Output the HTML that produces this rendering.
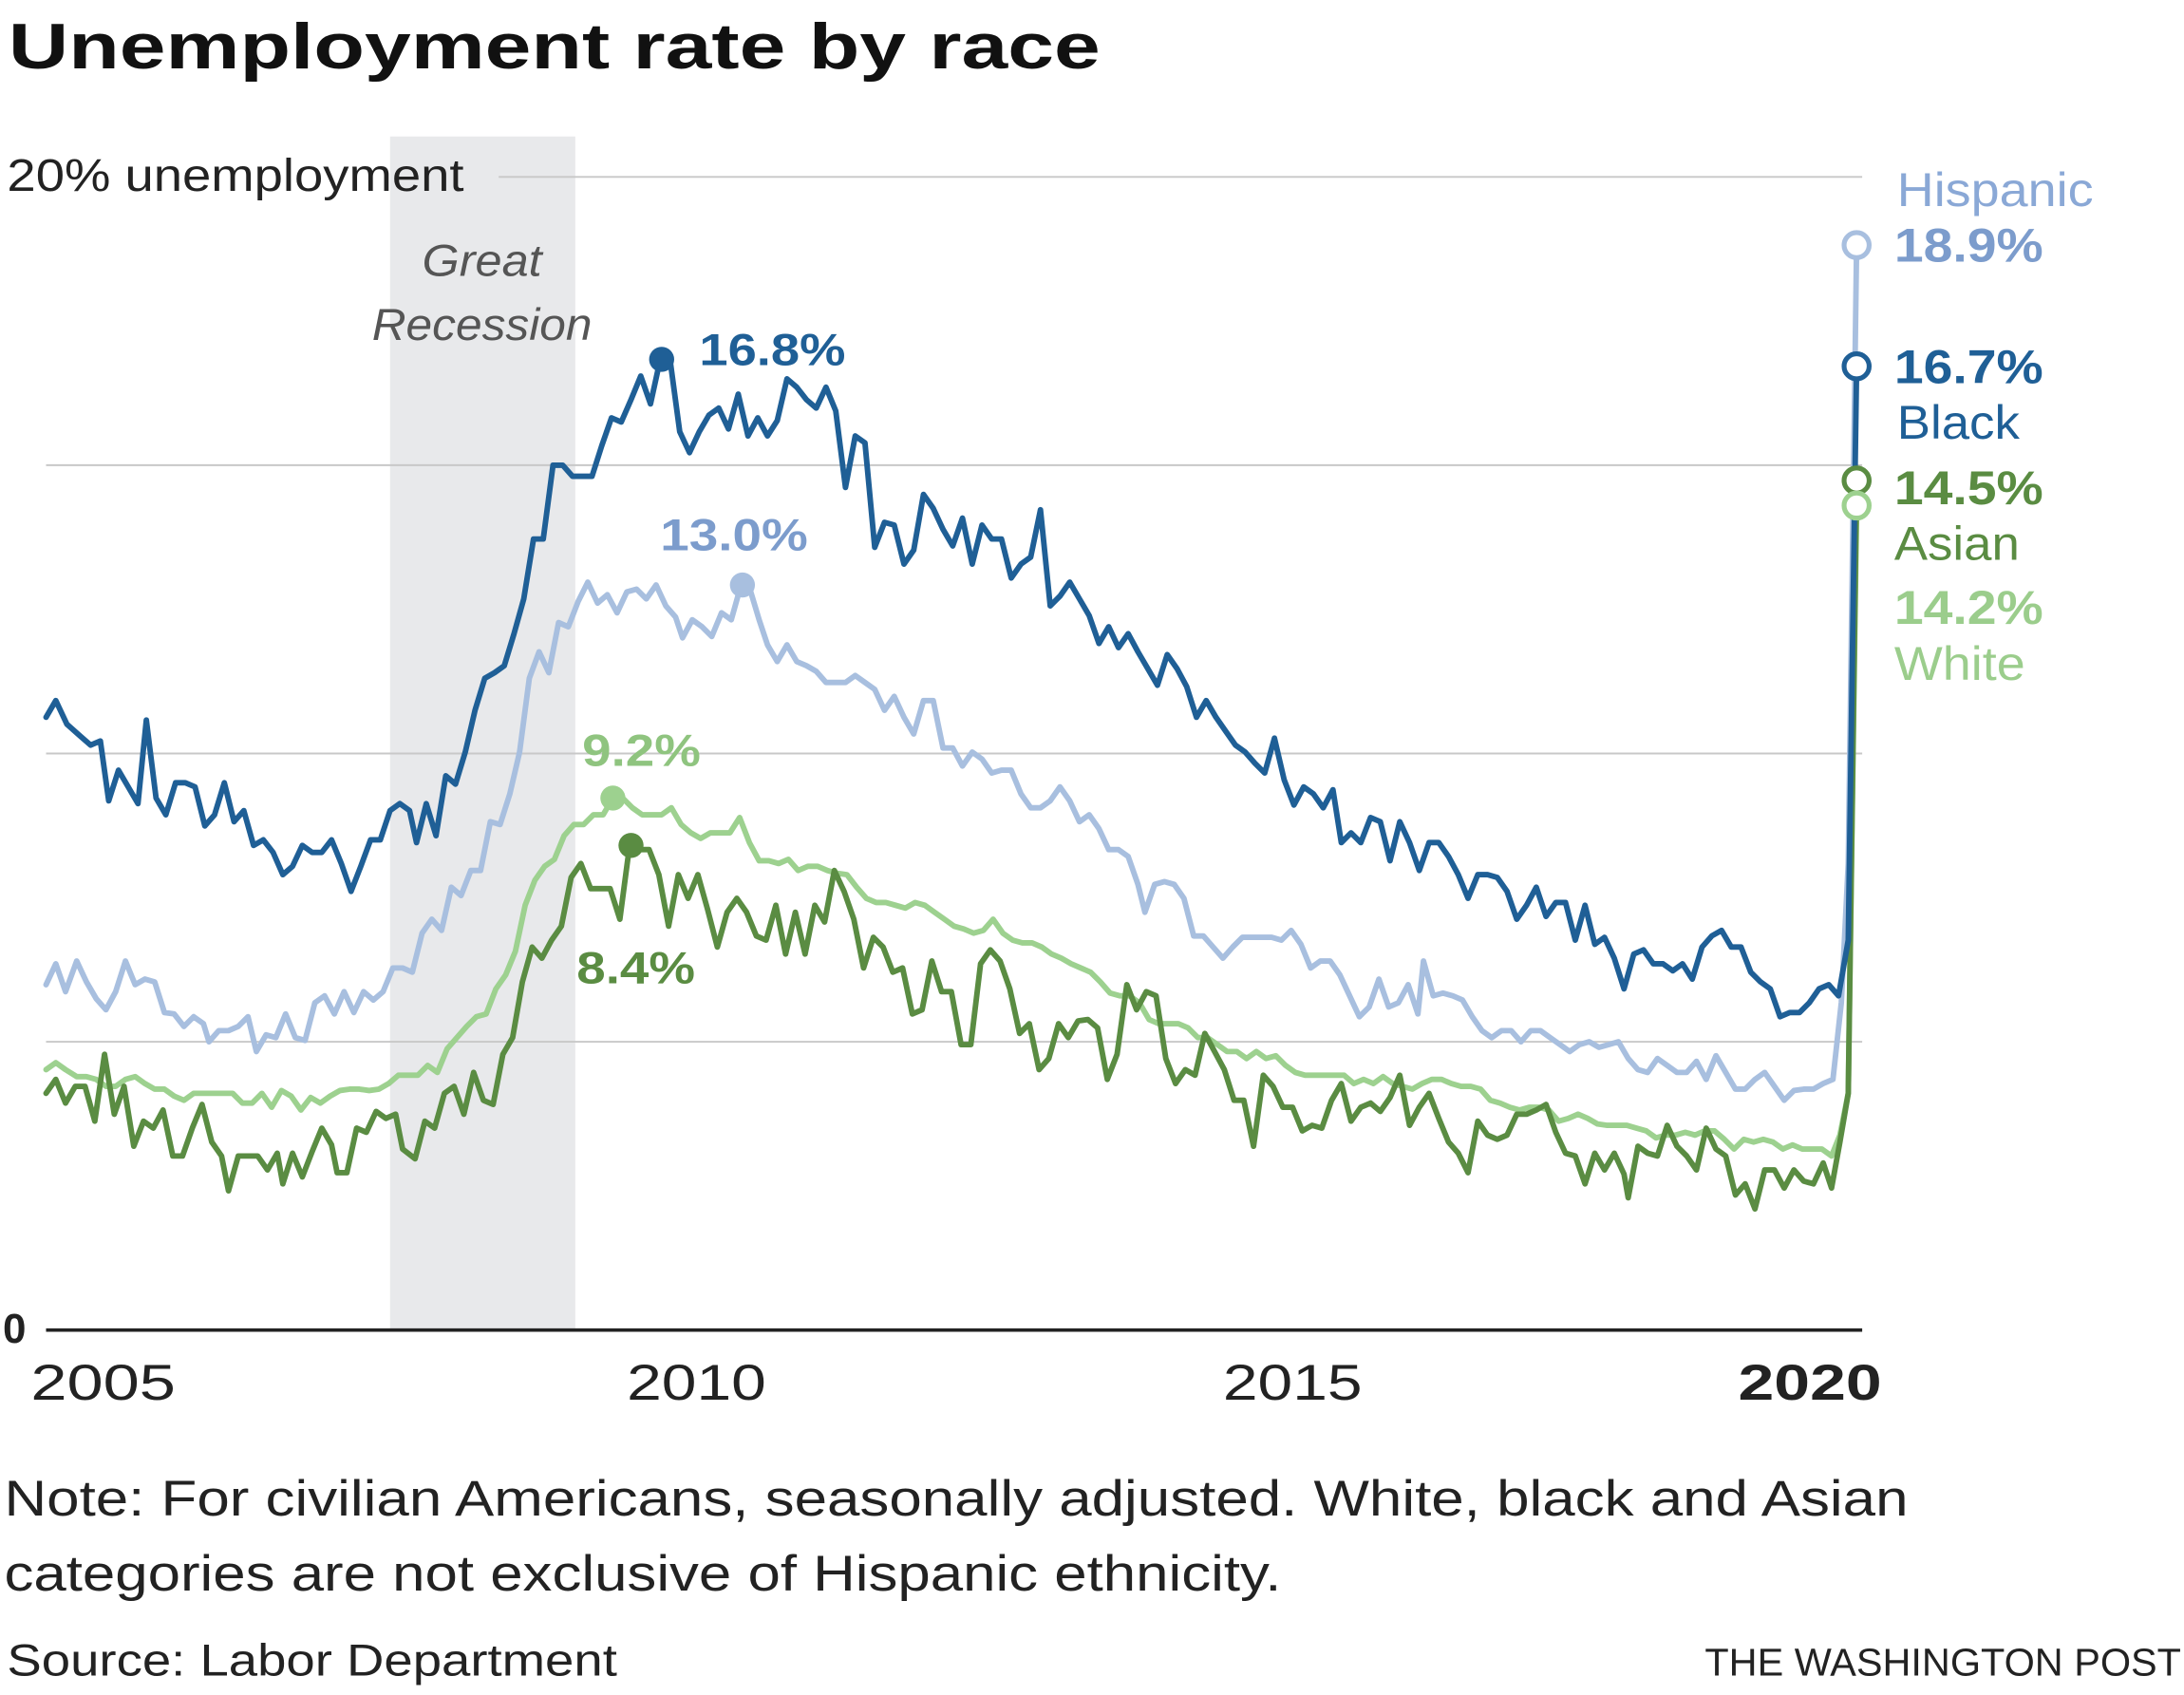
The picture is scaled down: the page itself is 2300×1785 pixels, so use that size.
<!DOCTYPE html>
<html><head><meta charset="utf-8"><style>
html,body{margin:0;padding:0;background:#fff;}
svg{display:block;}
text{font-family:"Liberation Sans",sans-serif;}
</style></head><body>
<svg width="2300" height="1785" viewBox="0 0 1568 1217" xmlns="http://www.w3.org/2000/svg">
<rect x="0" y="0" width="1568" height="1217" fill="#fff"/>
<text x="6" y="49" font-size="46" font-weight="bold" fill="#111" textLength="784" lengthAdjust="spacingAndGlyphs">Unemployment rate by race</text>
<rect x="280" y="98" width="133" height="857" fill="#e8e9eb"/>
<g stroke="#c8c8c8" stroke-width="1.3">
<line x1="358" y1="127" x2="1337" y2="127"/>
<line x1="33" y1="334" x2="1337" y2="334"/>
<line x1="33" y1="541" x2="1337" y2="541"/>
<line x1="33" y1="748" x2="1337" y2="748"/>
</g>
<line x1="33" y1="955" x2="1337" y2="955" stroke="#222" stroke-width="2.5"/>
<text x="5" y="137" font-size="33" fill="#222" textLength="328" lengthAdjust="spacingAndGlyphs">20% unemployment</text>
<text x="2" y="964" font-size="30" font-weight="bold" fill="#222">0</text>
<text x="303" y="198" font-size="32" font-style="italic" fill="#555" textLength="86" lengthAdjust="spacingAndGlyphs">Great</text>
<text x="267" y="244" font-size="32" font-style="italic" fill="#555" textLength="158" lengthAdjust="spacingAndGlyphs">Recession</text>
<g font-size="36" fill="#222">
<text x="22" y="1005" textLength="104" lengthAdjust="spacingAndGlyphs">2005</text>
<text x="450" y="1005" textLength="100" lengthAdjust="spacingAndGlyphs">2010</text>
<text x="878" y="1005" textLength="100" lengthAdjust="spacingAndGlyphs">2015</text>
<text x="1248" y="1005" font-weight="bold" textLength="103" lengthAdjust="spacingAndGlyphs">2020</text>
</g>
<g fill="none" stroke-width="4" stroke-linejoin="round" stroke-linecap="round">
<polyline stroke="#a8bfdf" points="33,707 40,692 47,712 55,690 62,705 69,717 76,725 83,712 90,690 97,707 104,703 111,705 118,727 125,728 132,737 139,730 146,735 150,748 157,740 164,740 171,737 178,730 184,755 191,743 198,745 205,728 212,745 219,747 226,720 233,715 240,728 247,712 254,727 261,712 268,718 275,712 282,695 289,695 296,698 303,670 310,660 317,668 324,637 331,643 338,625 345,625 352,590 359,592 366,570 373,540 380,487 387,468 394,483 401,447 408,450 415,432 422,418 429,433 436,427 443,440 450,425 457,423 464,430 471,420 478,435 485,443 490,458 497,445 504,450 511,457 518,440 525,445 532,420 539,425 545,445 551,463 558,475 565,463 572,475 579,478 586,482 593,490 600,490 607,490 614,485 621,490 628,495 635,510 642,500 649,515 656,527 663,503 670,503 677,537 684,537 691,550 698,540 705,545 712,555 719,553 726,553 733,570 740,580 747,580 754,575 761,565 768,575 775,590 782,585 789,595 796,610 803,610 810,615 817,635 822,655 829,635 836,633 843,635 850,645 857,672 864,672 871,680 878,688 885,680 892,673 899,673 906,673 913,673 920,675 927,668 934,678 941,695 948,690 955,690 962,700 969,715 976,730 983,723 990,703 997,723 1004,720 1011,707 1018,728 1022,690 1029,715 1036,713 1043,715 1050,718 1057,730 1064,740 1071,745 1078,740 1085,740 1092,748 1099,740 1106,740 1113,745 1120,750 1127,755 1134,750 1141,748 1148,752 1155,750 1162,748 1169,760 1176,768 1183,770 1190,760 1197,765 1204,770 1211,770 1218,762 1225,775 1232,758 1239,770 1246,782 1253,782 1260,775 1267,770 1274,780 1281,790 1288,783 1295,782 1302,782 1309,778 1316,775 1322,720 1327,620 1333,176"/>
<polyline stroke="#9dd18f" points="33,768 40,763 47,768 55,773 62,773 69,775 76,780 83,780 90,775 97,773 104,778 111,782 118,782 125,787 132,790 139,785 146,785 153,785 160,785 167,785 174,792 181,792 188,785 195,795 202,783 209,787 216,797 223,788 230,792 237,787 244,783 251,782 258,782 265,783 272,782 279,778 286,772 293,772 300,772 307,765 314,770 321,753 328,745 335,737 342,730 349,728 356,710 363,700 370,683 377,650 384,632 391,622 398,617 405,600 412,592 419,592 426,585 433,585 440,573 447,573 454,580 461,585 468,585 475,585 482,580 489,592 496,598 503,602 510,598 517,598 524,598 531,587 538,605 545,618 552,618 559,620 566,617 573,625 580,622 587,622 594,625 601,627 608,628 615,637 622,645 629,648 636,648 643,650 650,652 657,648 664,650 671,655 678,660 685,665 692,667 699,670 706,668 713,660 720,670 727,675 734,677 741,677 748,680 755,685 762,688 769,692 776,695 783,698 790,705 797,713 804,715 811,715 818,720 825,732 832,735 839,735 846,735 853,738 860,745 867,745 874,750 881,755 888,755 895,760 902,755 909,760 916,758 923,765 930,770 937,772 944,772 951,772 958,772 965,772 972,778 979,775 986,778 993,773 1000,778 1007,780 1014,782 1021,778 1028,775 1035,775 1042,778 1049,780 1056,780 1063,782 1070,790 1077,792 1084,795 1091,797 1098,795 1105,795 1112,797 1119,805 1126,803 1133,800 1140,803 1147,807 1154,808 1161,808 1168,808 1175,810 1182,812 1189,817 1196,815 1203,815 1210,813 1217,815 1224,812 1231,812 1238,818 1245,825 1252,818 1259,820 1266,818 1273,820 1280,825 1287,822 1294,825 1301,825 1308,825 1315,830 1321,815 1327,785 1333,365"/>
<polyline stroke="#5a8c42" points="33,785 40,775 47,792 54,780 61,780 68,805 75,757 82,800 89,780 96,823 103,805 110,810 117,797 124,830 131,830 138,810 145,793 152,820 159,830 164,855 171,830 178,830 185,830 192,840 199,828 203,850 210,828 217,845 224,827 231,810 238,822 242,842 249,842 256,810 263,813 270,798 277,803 284,800 289,825 298,832 305,805 312,810 319,785 326,780 333,800 340,770 347,790 354,793 361,757 368,745 375,705 382,680 389,688 396,675 403,665 410,630 417,620 424,638 431,638 438,638 445,660 452,607 459,610 466,610 473,628 480,665 487,628 494,645 501,628 508,653 515,680 522,655 529,645 536,655 543,672 550,675 557,650 564,685 571,655 578,685 585,650 592,662 599,625 606,640 613,660 620,695 627,673 634,680 641,698 648,695 655,728 662,725 669,690 676,712 683,712 690,750 697,750 704,692 711,682 718,690 725,710 732,742 739,735 746,768 753,760 760,735 767,745 774,733 781,732 788,738 795,775 802,757 809,707 816,725 823,712 830,715 837,760 844,778 851,768 858,772 865,742 872,755 879,768 886,790 893,790 900,823 907,772 914,780 921,795 928,795 935,812 942,808 949,810 956,790 963,778 970,805 977,795 984,792 991,798 998,788 1005,772 1012,808 1019,795 1026,785 1033,803 1040,820 1047,828 1054,842 1061,805 1068,815 1075,818 1082,815 1089,800 1096,800 1103,797 1110,793 1117,813 1124,828 1131,830 1138,850 1145,828 1152,840 1159,828 1166,843 1169,860 1176,823 1183,828 1190,830 1197,808 1204,823 1211,830 1218,840 1225,810 1232,825 1239,830 1246,858 1253,850 1260,868 1267,840 1274,840 1281,853 1288,840 1295,848 1302,850 1309,835 1315,853 1321,820 1327,785 1333,345"/>
<polyline stroke="#1f5f96" points="33,515 40,503 48,520 57,528 65,535 72,532 78,575 85,553 92,565 99,577 105,517 112,573 119,585 126,562 133,562 140,565 147,593 154,585 161,562 168,590 175,582 182,607 189,603 196,612 203,628 210,622 217,607 224,612 231,612 238,603 245,620 252,640 259,622 266,603 273,603 280,582 287,577 294,582 299,605 306,577 313,600 320,557 327,563 334,540 341,510 348,487 355,483 362,478 369,455 376,430 383,387 390,387 397,334 404,334 411,342 418,342 425,342 432,320 439,300 446,303 453,287 460,270 467,290 474,258 481,258 488,310 495,325 502,310 509,298 516,293 523,308 530,283 537,313 544,300 551,313 558,302 565,272 572,278 579,287 586,293 593,278 600,295 607,350 614,313 621,318 628,393 635,375 642,377 649,405 656,395 663,355 670,365 677,380 684,392 691,372 698,405 705,377 712,387 719,387 726,415 733,405 740,400 747,366 754,435 761,428 768,418 775,430 782,442 789,462 796,450 803,465 810,455 817,468 824,480 831,492 838,470 845,480 852,493 859,515 866,503 873,515 880,525 887,535 894,540 901,548 908,555 915,530 922,560 929,578 936,565 943,570 950,580 957,567 963,605 970,598 977,605 984,587 991,590 998,618 1005,590 1012,605 1019,625 1026,605 1033,605 1040,615 1047,628 1054,645 1061,628 1068,628 1075,630 1082,640 1089,660 1096,650 1103,637 1110,658 1117,648 1124,648 1131,675 1138,650 1145,678 1152,673 1159,688 1166,710 1173,685 1180,682 1187,692 1194,692 1201,697 1208,692 1215,703 1222,680 1229,672 1236,668 1243,680 1250,680 1257,698 1264,705 1271,710 1278,730 1285,727 1292,727 1299,720 1306,710 1313,707 1320,715 1327,675 1333,263"/>
</g>
<circle cx="475" cy="258" r="9" fill="#1f5f96"/>
<circle cx="533" cy="420" r="9" fill="#a8bfdf"/>
<circle cx="440" cy="573" r="9" fill="#9dd18f"/>
<circle cx="453" cy="607" r="9" fill="#5a8c42"/>
<g fill="#fff" stroke-width="3.5">
<circle cx="1333" cy="176" r="9" stroke="#a8bfdf"/>
<circle cx="1333" cy="263" r="9" stroke="#1f5f96"/>
<circle cx="1333" cy="345" r="9" stroke="#5a8c42"/>
<circle cx="1333" cy="363" r="9" stroke="#9dd18f"/>
</g>
<g font-size="32" font-weight="bold">
<text x="502" y="262" fill="#1f5f96" textLength="105" lengthAdjust="spacingAndGlyphs">16.8%</text>
<text x="474" y="395" fill="#7c9ccc" textLength="106" lengthAdjust="spacingAndGlyphs">13.0%</text>
<text x="418" y="550" fill="#8fc47f" textLength="85" lengthAdjust="spacingAndGlyphs">9.2%</text>
<text x="414" y="706" fill="#5a8c42" textLength="85" lengthAdjust="spacingAndGlyphs">8.4%</text>
</g>
<g font-size="34">
<text x="1362" y="148" fill="#8aa8d6" textLength="141" lengthAdjust="spacingAndGlyphs">Hispanic</text>
<text x="1360" y="188" fill="#7c9ccc" font-weight="bold" textLength="107" lengthAdjust="spacingAndGlyphs">18.9%</text>
<text x="1360" y="275" fill="#1f5f96" font-weight="bold" textLength="107" lengthAdjust="spacingAndGlyphs">16.7%</text>
<text x="1362" y="315" fill="#1f5f96" textLength="88" lengthAdjust="spacingAndGlyphs">Black</text>
<text x="1360" y="362" fill="#5a8c42" font-weight="bold" textLength="107" lengthAdjust="spacingAndGlyphs">14.5%</text>
<text x="1360" y="402" fill="#5a8c42" textLength="90" lengthAdjust="spacingAndGlyphs">Asian</text>
<text x="1360" y="448" fill="#9bcd8c" font-weight="bold" textLength="107" lengthAdjust="spacingAndGlyphs">14.2%</text>
<text x="1360" y="488" fill="#9bcd8c" textLength="94" lengthAdjust="spacingAndGlyphs">White</text>
</g>
<text x="3" y="1088" font-size="36" fill="#222" textLength="1367" lengthAdjust="spacingAndGlyphs">Note: For civilian Americans, seasonally adjusted. White, black and Asian</text>
<text x="3" y="1142" font-size="36" fill="#222" textLength="917" lengthAdjust="spacingAndGlyphs">categories are not exclusive of Hispanic ethnicity.</text>
<text x="5" y="1203" font-size="32" fill="#222" textLength="438" lengthAdjust="spacingAndGlyphs">Source: Labor Department</text>
<text x="1566" y="1203" font-size="28" fill="#222" text-anchor="end" textLength="342" lengthAdjust="spacingAndGlyphs">THE WASHINGTON POST</text>
</svg>
</body></html>
